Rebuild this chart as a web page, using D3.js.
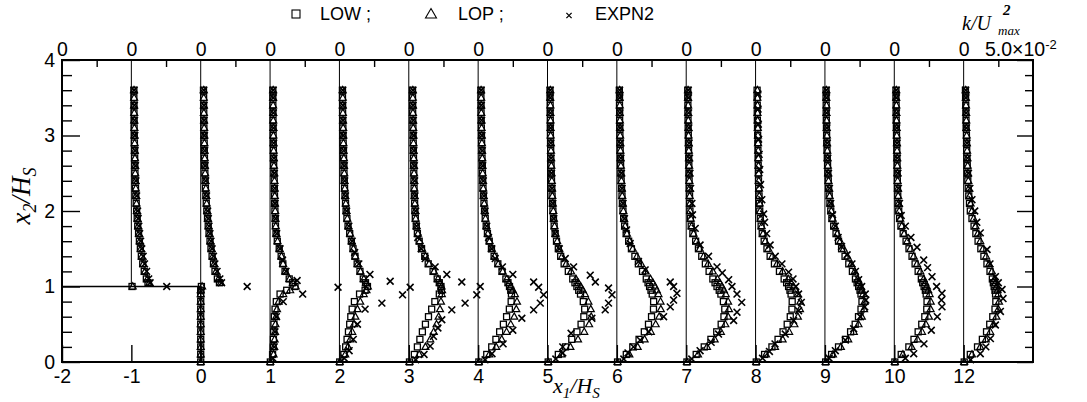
<!DOCTYPE html>
<html><head><meta charset="utf-8">
<script src="https://cdn.jsdelivr.net/npm/d3@7"></script>
<style>
body{margin:0;background:#fff}
svg{display:block}
</style>
</head><body>
<svg id="c" width="1087" height="402"></svg>
<script>
// ---------------- DATA ----------------
// Wall-normal positions x2/Hs shared by the LOW and LOP model profiles
const yGrid = [0,0.1,0.2,0.3,0.4,0.5,0.6,0.7,0.8,0.9, 0.95,1.0,1.05,
  1.1,1.2,1.3,1.4,1.5,1.6,1.7,1.8,1.9, 2.0,2.1,2.2,2.3,2.4,2.5,2.6,2.7,2.8,2.9, 3.0,3.1,3.2,3.3,3.4,3.5,3.6];

// Streamwise stations x1/Hs (the last one, 12, is drawn in slot 11)
const stations = [-1,0,1,2,3,4,5,6,7,8,9,10,12];
const bottomLabels = ["-2","-1","0","1","2","3","4","5","6","7","8","9","10","12"];
const topZeroLabel = "0";
const kScaleLabel = ["5.0\u00d710","-2"];
const kPerSlot = 5;        // k/U^2max per slot width, in units of 1e-2
const legendNames = ["LOW ;","LOP ;","EXPN2"];

// k/U^2max (x 1e-2), LOW model, on yGrid
const N = null;
const lowM1 = [N,N,N,N,N,N,N,N,N,N, N,0.05,1.2, 1.08,0.93,0.82,0.72,0.65,0.58,0.52,0.46,0.42, 0.38,0.35,0.32,0.3,0.28,0.26,0.25,0.24,0.23,0.22, 0.21,0.2,0.2,0.19,0.19,0.18,0.18];
const low0  = [0,0,0,0,0,0,0,0,0,0, 0,0.05,1.35, 1.2,1.03,0.92,0.82,0.74,0.67,0.6,0.54,0.49, 0.44,0.4,0.37,0.34,0.32,0.3,0.28,0.27,0.26,0.25, 0.24,0.23,0.22,0.22,0.21,0.21,0.2];
const low1  = [0.02,0.18,0.22,0.24,0.26,0.28,0.31,0.36,0.45,0.72, 1.2,1.8,1.62, 1.38,1.08,0.92,0.8,0.66,0.52,0.43,0.39,0.37, 0.35,0.33,0.32,0.31,0.3,0.28,0.26,0.25,0.24,0.23, 0.22,0.22,0.21,0.21,0.2,0.2,0.2];
const low2  = [0.02,0.32,0.45,0.55,0.65,0.74,0.82,0.92,1.08,1.45, 1.85,2.02,1.88, 1.72,1.48,1.28,1.12,0.98,0.86,0.74,0.62,0.54, 0.48,0.44,0.4,0.37,0.35,0.33,0.32,0.3,0.29,0.27, 0.26,0.25,0.24,0.23,0.23,0.22,0.22];
const low3  = [0.05,0.4,0.62,0.8,0.98,1.2,1.42,1.65,1.88,2.2, 2.35,2.32,2.2, 2.05,1.75,1.4,1.15,0.92,0.75,0.62,0.54,0.47, 0.44,0.42,0.4,0.38,0.37,0.36,0.35,0.34,0.33,0.32, 0.31,0.3,0.29,0.28,0.28,0.27,0.27];
const low4  = [0.05,0.62,0.98,1.28,1.55,1.82,2.05,2.25,2.38,2.4, 2.35,2.26,2.15, 2.0,1.72,1.42,1.15,0.96,0.8,0.67,0.58,0.51, 0.46,0.42,0.38,0.35,0.33,0.31,0.3,0.28,0.27,0.25, 0.24,0.23,0.22,0.21,0.21,0.2,0.2];
const low5  = [0.05,0.78,1.3,1.75,2.12,2.42,2.62,2.68,2.58,2.38, 2.25,2.12,1.98, 1.82,1.5,1.2,0.95,0.78,0.65,0.55,0.48,0.43, 0.39,0.36,0.33,0.31,0.29,0.27,0.26,0.24,0.23,0.22, 0.21,0.2,0.2,0.19,0.19,0.18,0.18];
const low6  = [0.05,0.68,1.15,1.6,1.98,2.28,2.5,2.64,2.65,2.55, 2.46,2.36,2.25, 2.12,1.85,1.55,1.3,1.05,0.85,0.67,0.56,0.49, 0.44,0.4,0.37,0.34,0.31,0.29,0.27,0.26,0.24,0.23, 0.22,0.21,0.2,0.2,0.19,0.19,0.18];
const low7  = [0.05,0.72,1.3,1.78,2.2,2.52,2.72,2.78,2.68,2.5, 2.38,2.22,2.08, 1.92,1.65,1.38,1.12,0.88,0.68,0.48,0.36,0.3, 0.27,0.25,0.24,0.22,0.21,0.2,0.19,0.18,0.17,0.16, 0.15,0.14,0.13,0.12,0.12,0.11,0.11];
const low8  = [0.05,0.65,1.18,1.62,1.98,2.28,2.5,2.62,2.64,2.56, 2.48,2.38,2.24, 2.06,1.72,1.36,1.05,0.82,0.62,0.48,0.4,0.34, 0.3,0.27,0.25,0.23,0.21,0.2,0.19,0.18,0.17,0.16, 0.15,0.14,0.13,0.12,0.12,0.11,0.11];
const low9  = [0.05,0.48,0.98,1.48,1.85,2.18,2.42,2.6,2.67,2.6, 2.53,2.43,2.32, 2.2,1.98,1.72,1.45,1.2,0.98,0.8,0.63,0.5, 0.42,0.36,0.31,0.27,0.24,0.21,0.19,0.17,0.15,0.13, 0.12,0.11,0.1,0.09,0.09,0.08,0.08];
const low10 = [0.04,0.5,1.05,1.42,1.72,1.98,2.2,2.34,2.36,2.3, 2.24,2.15,2.05, 1.95,1.72,1.5,1.28,1.06,0.85,0.64,0.48,0.38, 0.32,0.28,0.25,0.23,0.22,0.21,0.2,0.19,0.18,0.17, 0.16,0.15,0.14,0.13,0.13,0.12,0.12];
const low12 = [0.04,0.48,1.0,1.35,1.65,1.88,2.1,2.26,2.32,2.3, 2.26,2.2,2.14, 2.07,1.9,1.68,1.46,1.24,1.04,0.88,0.75,0.6, 0.48,0.42,0.37,0.33,0.3,0.28,0.26,0.24,0.22,0.21, 0.2,0.18,0.17,0.16,0.15,0.14,0.13];

// k/U^2max (x 1e-2), LOP model, on yGrid
const lopM1 = [N,N,N,N,N,N,N,N,N,N, N,0.1,1.3, 1.15,0.98,0.86,0.76,0.68,0.61,0.55,0.49,0.44, 0.4,0.37,0.34,0.32,0.3,0.28,0.27,0.26,0.25,0.24, 0.23,0.22,0.21,0.21,0.2,0.2,0.19];
const lop0  = [0,0,0,0,0,0,0,0,0,0, 0,0.1,1.45, 1.28,1.1,0.97,0.87,0.78,0.7,0.63,0.57,0.52, 0.47,0.43,0.4,0.37,0.34,0.32,0.3,0.29,0.28,0.27, 0.26,0.25,0.24,0.23,0.23,0.22,0.22];
const lop1  = [0.02,0.25,0.3,0.33,0.36,0.39,0.43,0.5,0.62,0.95, 1.45,1.85,1.65, 1.4,1.1,0.94,0.82,0.68,0.54,0.45,0.41,0.39, 0.37,0.35,0.34,0.33,0.32,0.3,0.28,0.27,0.26,0.25, 0.24,0.24,0.23,0.23,0.22,0.22,0.22];
const lop2  = [0.02,0.42,0.62,0.78,0.92,1.05,1.15,1.3,1.5,1.75, 1.95,2.05,1.92, 1.76,1.52,1.32,1.15,1.01,0.89,0.77,0.65,0.57, 0.51,0.46,0.42,0.39,0.37,0.35,0.33,0.32,0.3,0.29, 0.28,0.27,0.26,0.25,0.24,0.24,0.23];
const lop3  = [0.05,0.75,1.2,1.55,1.8,2.0,2.15,2.25,2.32,2.38, 2.4,2.36,2.25, 2.1,1.82,1.46,1.2,0.96,0.79,0.66,0.57,0.5, 0.47,0.44,0.42,0.4,0.39,0.38,0.37,0.36,0.35,0.34, 0.33,0.32,0.31,0.3,0.3,0.29,0.29];
const lop4  = [0.05,0.8,1.3,1.7,2.05,2.35,2.6,2.75,2.8,2.65, 2.5,2.35,2.22, 2.06,1.77,1.46,1.19,0.99,0.83,0.7,0.6,0.53, 0.48,0.44,0.4,0.37,0.35,0.33,0.31,0.3,0.28,0.27, 0.26,0.25,0.24,0.23,0.22,0.22,0.21];
const lop5  = [0.05,1.0,1.65,2.2,2.65,3.0,3.15,3.12,2.95,2.7, 2.55,2.4,2.22, 2.05,1.7,1.35,1.05,0.85,0.7,0.59,0.51,0.46, 0.42,0.38,0.35,0.33,0.31,0.29,0.28,0.26,0.25,0.24, 0.23,0.22,0.22,0.21,0.21,0.2,0.2];
const lop6  = [0.05,0.9,1.5,2.0,2.45,2.8,3.05,3.17,3.15,3.0, 2.88,2.75,2.6, 2.42,2.08,1.75,1.45,1.15,0.92,0.73,0.6,0.52, 0.47,0.43,0.39,0.36,0.33,0.31,0.29,0.27,0.26,0.25, 0.24,0.23,0.22,0.21,0.21,0.2,0.2];
const lop7  = [0.05,0.85,1.5,2.05,2.5,2.82,3.02,3.08,3.02,2.85, 2.72,2.58,2.42, 2.25,1.92,1.58,1.26,0.98,0.74,0.53,0.4,0.33, 0.29,0.27,0.25,0.24,0.23,0.22,0.21,0.2,0.19,0.18, 0.17,0.16,0.15,0.14,0.14,0.13,0.13];
const lop8  = [0.05,0.75,1.4,1.95,2.42,2.8,3.05,3.2,3.22,3.05, 2.9,2.74,2.56, 2.35,1.95,1.55,1.2,0.92,0.7,0.54,0.44,0.37, 0.33,0.3,0.27,0.25,0.23,0.22,0.21,0.2,0.19,0.18, 0.17,0.16,0.15,0.14,0.14,0.13,0.13];
const lop9  = [0.05,0.58,1.15,1.68,2.08,2.42,2.66,2.82,2.86,2.76, 2.68,2.58,2.48, 2.37,2.15,1.9,1.62,1.35,1.1,0.89,0.7,0.56, 0.46,0.39,0.34,0.3,0.26,0.23,0.21,0.19,0.17,0.15, 0.14,0.13,0.12,0.11,0.11,0.1,0.1];
const lop10 = [0.04,0.62,1.25,1.68,2.0,2.28,2.5,2.62,2.63,2.55, 2.45,2.35,2.24, 2.12,1.88,1.64,1.4,1.16,0.93,0.71,0.54,0.43, 0.36,0.31,0.28,0.26,0.24,0.23,0.22,0.21,0.2,0.19, 0.18,0.17,0.16,0.15,0.15,0.14,0.14];
const lop12 = [0.04,0.6,1.2,1.6,1.92,2.16,2.36,2.5,2.55,2.5, 2.45,2.38,2.3, 2.22,2.04,1.84,1.62,1.4,1.2,1.02,0.86,0.72, 0.6,0.5,0.43,0.38,0.34,0.31,0.29,0.27,0.25,0.23, 0.22,0.2,0.19,0.18,0.17,0.16,0.15];

// EXPN2 measurements: [x2/Hs, k/U^2max (x 1e-2)]
const expM1 = [[1.0,2.55],[1.05,1.35],[1.1,1.25],[1.2,1.1],[1.3,0.95],[1.4,0.85],[1.5,0.75],[1.6,0.67],[1.7,0.6],[1.8,0.54],[1.9,0.49],[2.0,0.45],[2.2,0.38],[2.4,0.33],[2.6,0.3],[2.8,0.27],[3.0,0.25],[3.2,0.23],[3.4,0.22],[3.6,0.2]];
const exp0  = [[1.0,3.35],[1.05,1.5],[1.1,1.38],[1.2,1.18],[1.3,1.02],[1.4,0.92],[1.5,0.82],[1.6,0.74],[1.7,0.67],[1.8,0.6],[1.9,0.55],[2.0,0.5],[2.2,0.42],[2.4,0.36],[2.6,0.32],[2.8,0.29],[3.0,0.27],[3.2,0.25],[3.4,0.24],[3.6,0.22]];
const exp1  = [[0.05,0.2],[0.2,0.3],[0.4,0.35],[0.6,0.45],[0.8,0.95],[0.9,2.35],[0.99,4.9],[1.08,1.95],[1.2,1.15],[1.35,0.9],[1.5,0.72],[1.7,0.48],[1.9,0.4],[2.1,0.36],[2.3,0.34],[2.5,0.31],[2.7,0.28],[2.9,0.26],[3.1,0.25],[3.3,0.24],[3.5,0.23],[3.6,0.23]];
const exp2  = [[0.05,0.35],[0.15,0.7],[0.3,1.0],[0.5,1.3],[0.7,1.85],[0.78,3.06],[0.89,4.55],[0.99,5.1],[1.07,3.66],[1.16,2.2],[1.3,1.4],[1.45,1.1],[1.6,0.92],[1.8,0.68],[2.0,0.52],[2.2,0.44],[2.4,0.38],[2.6,0.35],[2.8,0.31],[3.0,0.28],[3.2,0.26],[3.4,0.25],[3.6,0.24]];
const exp3  = [[0.03,0.5],[0.1,1.1],[0.21,1.54],[0.34,1.78],[0.45,2.1],[0.56,2.38],[0.69,3.1],[0.78,4.06],[0.89,4.9],[1.0,5.15],[1.06,3.82],[1.16,2.74],[1.26,1.9],[1.37,1.18],[1.5,0.9],[1.65,0.65],[1.8,0.56],[2.0,0.5],[2.2,0.45],[2.4,0.42],[2.6,0.4],[2.8,0.37],[3.0,0.35],[3.2,0.33],[3.4,0.31],[3.6,0.3]];
const exp4  = [[0.03,0.5],[0.11,1.0],[0.24,1.8],[0.42,2.5],[0.58,3.15],[0.69,4.0],[0.78,4.48],[0.89,4.72],[0.99,4.36],[1.06,4.0],[1.16,2.5],[1.26,1.75],[1.37,1.23],[1.5,0.98],[1.65,0.75],[1.8,0.62],[2.0,0.5],[2.2,0.42],[2.4,0.37],[2.6,0.33],[2.8,0.3],[3.0,0.27],[3.2,0.25],[3.4,0.23],[3.6,0.22]];
const exp5  = [[0.04,0.6],[0.12,1.1],[0.2,1.1],[0.38,1.7],[0.58,3.2],[0.69,4.16],[0.78,4.4],[0.89,4.65],[0.98,4.4],[1.06,3.45],[1.15,3.08],[1.26,1.88],[1.37,1.28],[1.5,0.85],[1.7,0.55],[1.9,0.45],[2.1,0.38],[2.3,0.33],[2.5,0.29],[2.7,0.26],[2.9,0.24],[3.1,0.22],[3.3,0.21],[3.5,0.2],[3.6,0.2]];
const exp6  = [[0.04,0.5],[0.12,0.8],[0.2,1.2],[0.29,1.68],[0.4,2.3],[0.6,3.37],[0.73,3.85],[0.82,4.09],[0.91,4.33],[1.0,4.09],[1.06,3.85],[1.22,2.04],[1.33,1.56],[1.57,0.96],[1.75,0.7],[1.9,0.55],[2.1,0.45],[2.3,0.38],[2.5,0.33],[2.7,0.29],[2.9,0.26],[3.1,0.24],[3.3,0.22],[3.5,0.21],[3.6,0.2]];
const exp7  = [[0.04,0.4],[0.15,1.0],[0.26,1.8],[0.37,2.33],[0.55,3.42],[0.66,3.66],[0.79,4.0],[0.9,3.66],[1.0,3.3],[1.09,3.06],[1.18,2.6],[1.26,2.22],[1.4,1.61],[1.55,1.0],[1.77,0.65],[1.95,0.45],[2.1,0.41],[2.3,0.32],[2.5,0.27],[2.7,0.24],[2.9,0.21],[3.1,0.19],[3.3,0.17],[3.5,0.16],[3.6,0.15]];
const exp8  = [[0.05,0.5],[0.14,1.0],[0.24,1.4],[0.37,2.14],[0.55,2.74],[0.68,3.1],[0.79,3.3],[0.9,3.1],[1.0,2.9],[1.1,2.7],[1.19,2.38],[1.3,1.9],[1.4,1.42],[1.55,1.05],[1.7,0.8],[1.85,0.65],[1.96,0.58],[2.15,0.45],[2.35,0.36],[2.55,0.3],[2.75,0.26],[2.95,0.22],[3.15,0.2],[3.35,0.18],[3.55,0.17]];
const exp9  = [[0.05,0.3],[0.15,0.75],[0.29,1.47],[0.44,2.07],[0.6,2.55],[0.73,2.87],[0.82,2.95],[0.9,2.91],[1.0,2.65],[1.09,2.43],[1.2,2.2],[1.3,1.95],[1.42,1.6],[1.53,1.2],[1.65,0.95],[1.8,0.75],[1.95,0.55],[2.1,0.42],[2.3,0.33],[2.5,0.26],[2.7,0.21],[2.9,0.17],[3.1,0.14],[3.3,0.12],[3.5,0.11],[3.6,0.1]];
const exp10 = [[0.05,0.8],[0.11,1.4],[0.24,2.14],[0.42,2.67],[0.6,3.1],[0.73,3.44],[0.82,3.4],[0.91,3.44],[1.0,3.05],[1.13,2.72],[1.25,2.4],[1.35,2.12],[1.52,1.64],[1.65,1.2],[1.8,0.8],[1.94,0.5],[2.1,0.38],[2.3,0.3],[2.5,0.26],[2.7,0.22],[2.9,0.2],[3.1,0.18],[3.3,0.16],[3.5,0.15],[3.6,0.14]];
const exp12 = [[0.03,0.5],[0.11,1.2],[0.2,1.6],[0.31,1.93],[0.49,2.29],[0.67,2.65],[0.84,2.84],[0.96,2.77],[1.05,2.5],[1.13,2.29],[1.3,1.9],[1.49,1.69],[1.71,1.2],[1.85,0.95],[2.0,0.8],[2.15,0.6],[2.3,0.45],[2.5,0.35],[2.7,0.28],[2.9,0.24],[3.1,0.2],[3.3,0.18],[3.5,0.16],[3.6,0.15]];

const lowSeries = [lowM1,low0,low1,low2,low3,low4,low5,low6,low7,low8,low9,low10,low12];
const lopSeries = [lopM1,lop0,lop1,lop2,lop3,lop4,lop5,lop6,lop7,lop8,lop9,lop10,lop12];
const expSeries = [expM1,exp0,exp1,exp2,exp3,exp4,exp5,exp6,exp7,exp8,exp9,exp10,exp12];

// ---------------- DRAWING ----------------
const FONT = "'Liberation Sans', Arial, sans-serif";
const SERIF = "'Liberation Serif', 'Times New Roman', serif";
const svg = d3.select("#c");
svg.append("rect").attr("width",1087).attr("height",402).attr("fill","#fff");

const M = {l:62, r:1033, t:60, b:362};
const x = d3.scaleLinear().domain([-2,12]).range([M.l,M.r]);
const y = d3.scaleLinear().domain([0,4]).range([M.b,M.t]);
const kw = d3.scaleLinear().domain([0,kPerSlot]).range([0, x(1)-x(0)]);

const profiles = stations.map((s,i)=>({station:s, slot:i-1, low:lowSeries[i], lop:lopSeries[i], exp:expSeries[i]}));

function styleAxis(g, size){
  g.select(".domain").remove();
  g.selectAll("line").attr("stroke","#000").attr("stroke-width",1.4);
  g.selectAll("text").attr("font-family",FONT).attr("font-size",size).attr("fill","#000");
}

const yMajor = d3.range(0,5,1);
const yMinor = d3.range(0,4.01,0.2).filter(v=>Math.abs(v-Math.round(v))>1e-6);

// left axis
svg.append("g").attr("transform",`translate(${M.l},0)`)
  .call(d3.axisLeft(y).tickValues(yMajor).tickSize(-18).tickPadding(7).tickFormat(d3.format("d")))
  .call(g=>styleAxis(g,19.5));
svg.append("g").attr("transform",`translate(${M.l},0)`)
  .call(d3.axisLeft(y).tickValues(yMinor).tickSize(-10).tickFormat(""))
  .call(g=>styleAxis(g,19.5));
// right axis
svg.append("g").attr("transform",`translate(${M.r},0)`)
  .call(d3.axisRight(y).tickValues(yMajor).tickSize(-16).tickFormat(""))
  .call(g=>styleAxis(g,19.5));
svg.append("g").attr("transform",`translate(${M.r},0)`)
  .call(d3.axisRight(y).tickValues(yMinor).tickSize(-8).tickFormat(""))
  .call(g=>styleAxis(g,19.5));
// bottom axis
svg.append("g").attr("transform",`translate(0,${M.b})`)
  .call(d3.axisBottom(x).tickValues(d3.range(-2,12)).tickSize(-17).tickPadding(7.5)
    .tickFormat((d,i)=>bottomLabels[i]))
  .call(g=>styleAxis(g,19.5));
// top axis: zero labels at each station and half-slot ticks
svg.append("g").attr("transform",`translate(0,${M.t})`)
  .call(d3.axisTop(x).tickValues(d3.range(-2,12)).tickSize(0).tickPadding(4).tickFormat(()=>topZeroLabel))
  .call(g=>styleAxis(g,19.5));
svg.append("g").attr("transform",`translate(0,${M.t})`)
  .call(d3.axisTop(x).tickValues(d3.range(-1.5,12,1)).tickSize(-7).tickFormat(""))
  .call(g=>styleAxis(g,19.5));
// k scale label at right end of top axis
const kl = svg.append("text").attr("x",x(12)-48).attr("y",M.t-4)
  .attr("font-family",FONT).attr("font-size",19.5).attr("fill","#000");
kl.append("tspan").text(kScaleLabel[0]);
kl.append("tspan").attr("dy",-7).attr("font-size",13).text(kScaleLabel[1]);

// k/U^2max label
svg.append("text").attr("x",962).attr("y",30).attr("font-family",SERIF).attr("font-style","italic")
  .attr("font-size",20).text("k/U");
svg.append("text").attr("x",1003).attr("y",15).attr("font-family",SERIF).attr("font-style","italic")
  .attr("font-weight","bold").attr("font-size",15).text("2");
svg.append("text").attr("x",998).attr("y",35).attr("font-family",SERIF).attr("font-style","italic")
  .attr("font-size",13).text("max");

// profile base lines
const gl = svg.append("g").attr("stroke","#000").attr("fill","none");
profiles.forEach(p=>{
  gl.append("line").attr("x1",x(p.slot)).attr("x2",x(p.slot))
    .attr("y1",y(p.slot<0?1:0)).attr("y2",y(4)).attr("stroke-width",1);
});
// step geometry
gl.append("path").attr("stroke-width",1.5)
  .attr("d",`M${x(-2)},${y(1)}H${x(0)}V${y(0)}`);

// frame
svg.append("rect").attr("x",M.l).attr("y",M.t).attr("width",M.r-M.l).attr("height",M.b-M.t)
  .attr("fill","none").attr("stroke","#000").attr("stroke-width",2);

// markers
const gm = svg.append("g").attr("fill","none").attr("stroke","#000");
const tri = "M0,-3.8L3.5,2.5L-3.5,2.5Z";
const crs = "M-3.4,-3.4L3.4,3.4M-3.4,3.4L3.4,-3.4";
profiles.forEach(p=>{
  const x0 = x(p.slot);
  yGrid.forEach((yy,j)=>{
    const v = p.low[j];
    if(v==null) return;
    gm.append("rect").attr("x",x0+kw(v)-3).attr("y",y(yy)-3).attr("width",6).attr("height",6)
      .attr("stroke-width",1.3);
  });
});
profiles.forEach(p=>{
  const x0 = x(p.slot);
  yGrid.forEach((yy,j)=>{
    const v = p.lop[j];
    if(v==null) return;
    gm.append("path").attr("d",tri).attr("transform",`translate(${x0+kw(v)},${y(yy)})`)
      .attr("stroke-width",1.2);
  });
});
profiles.forEach(p=>{
  const x0 = x(p.slot);
  p.exp.forEach(([yy,v])=>{
    gm.append("path").attr("d",crs).attr("transform",`translate(${x0+kw(v)},${y(yy)})`)
      .attr("stroke-width",1.6);
  });
});

// legend
const lg = svg.append("g");
lg.append("rect").attr("x",292).attr("y",10).attr("width",8).attr("height",8)
  .attr("fill","none").attr("stroke","#000").attr("stroke-width",1.1);
lg.append("path").attr("d","M0,-5.5L5.5,4L-5.5,4Z").attr("transform","translate(431,14)")
  .attr("fill","none").attr("stroke","#000").attr("stroke-width",1.1);
lg.append("path").attr("d","M-2.6,-2.6L2.6,2.6M-2.6,2.6L2.6,-2.6").attr("transform","translate(569,15.5)")
  .attr("fill","none").attr("stroke","#000").attr("stroke-width",1.3);
[[320,legendNames[0]],[458,legendNames[1]],[595,legendNames[2]]].forEach(([lx,t])=>{
  lg.append("text").attr("x",lx).attr("y",20).attr("font-family",FONT).attr("font-size",18).text(t);
});

// axis titles
const xt = svg.append("text").attr("x",553).attr("y",393).attr("font-family",SERIF)
  .attr("font-style","italic").attr("font-size",22);
xt.append("tspan").text("x");
xt.append("tspan").attr("dy",5).attr("font-size",15).text("1");
xt.append("tspan").attr("dy",-5).text("/H");
xt.append("tspan").attr("dy",5).attr("font-size",15).text("S");

const yt = svg.append("text").attr("transform","translate(30,196) rotate(-90)")
  .attr("text-anchor","middle").attr("font-family",SERIF)
  .attr("font-style","italic").attr("font-size",27);
yt.append("tspan").text("x");
yt.append("tspan").attr("dy",6).attr("font-size",18).text("2");
yt.append("tspan").attr("dy",-6).text("/H");
yt.append("tspan").attr("dy",6).attr("font-size",18).text("S");
</script>
</body></html>
